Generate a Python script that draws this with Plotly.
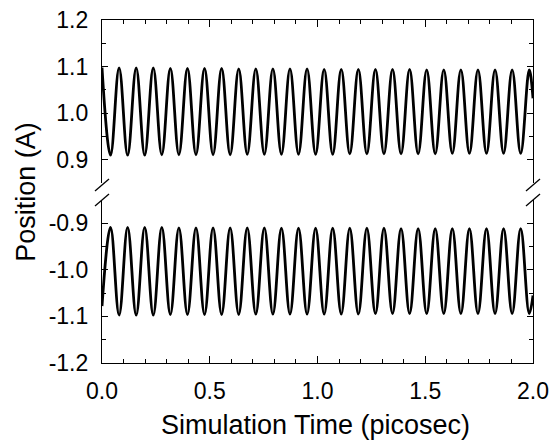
import plotly.graph_objects as go

# Times (ps) of the read extrema of the oscillations, plus the last sample
time_ps = [0.0000, 0.0396, 0.0793, 0.1189, 0.1586, 0.1982, 0.2379, 0.2775, 0.3172, 0.3568,
           0.3965, 0.4361, 0.4758, 0.5154, 0.5551, 0.5947, 0.6344, 0.6740, 0.7137, 0.7533,
           0.7930, 0.8326, 0.8723, 0.9119, 0.9516, 0.9912, 1.0309, 1.0705, 1.1102, 1.1498,
           1.1895, 1.2291, 1.2688, 1.3084, 1.3481, 1.3877, 1.4274, 1.4670, 1.5067, 1.5463,
           1.5860, 1.6256, 1.6653, 1.7049, 1.7446, 1.7842, 1.8239, 1.8635, 1.9032, 1.9428,
           1.9825, 2.0000]

# Upper atom position (A)
upper_pos = [1.098, 0.910, 1.097, 0.910, 1.097, 0.910, 1.097, 0.911, 1.096, 0.911,
             1.096, 0.911, 1.096, 0.911, 1.096, 0.911, 1.095, 0.912, 1.095, 0.912,
             1.095, 0.912, 1.095, 0.912, 1.095, 0.912, 1.094, 0.912, 1.094, 0.913,
             1.094, 0.913, 1.094, 0.913, 1.094, 0.913, 1.094, 0.913, 1.093, 0.913,
             1.093, 0.914, 1.093, 0.914, 1.093, 0.914, 1.093, 0.914, 1.093, 0.914,
             1.093, 1.032]

# Lower atom position (A)
lower_pos = [-1.078, -0.909, -1.097, -0.909, -1.097, -0.909, -1.097, -0.909, -1.096, -0.910,
             -1.096, -0.910, -1.096, -0.910, -1.096, -0.910, -1.096, -0.910, -1.095, -0.910,
             -1.095, -0.911, -1.095, -0.911, -1.095, -0.911, -1.095, -0.911, -1.095, -0.911,
             -1.095, -0.911, -1.094, -0.911, -1.094, -0.912, -1.094, -0.912, -1.094, -0.912,
             -1.094, -0.912, -1.094, -0.912, -1.094, -0.912, -1.094, -0.912, -1.094, -0.912,
             -1.094, -1.055]

x_ticks = [0.0, 0.5, 1.0, 1.5, 2.0]
upper_ticks = [0.9, 1.0, 1.1, 1.2]
lower_ticks = [-1.2, -1.1, -1.0, -0.9]
lower_tick_text = ["-1.2", "-1.1", "-1.0", "-0.9"]

FONT = "Liberation Sans, Arial, sans-serif"
line = dict(color="black", width=2.8, shape="spline", smoothing=1.1)

fig = go.Figure()
fig.add_trace(go.Scatter(x=time_ps, y=lower_pos, mode="lines", line=line,
                         xaxis="x", yaxis="y", showlegend=False))
fig.add_trace(go.Scatter(x=time_ps, y=upper_pos, mode="lines", line=line,
                         xaxis="x2", yaxis="y2", showlegend=False))

axis_common = dict(showline=True, linecolor="black", linewidth=1.2, ticks="inside",
                   tickcolor="black", tickwidth=1.2, showgrid=False, zeroline=False,
                   automargin=False,
                   tickfont=dict(family=FONT, size=23, color="black"))

fig.update_layout(
    width=551, height=443,
    margin=dict(l=102, r=18, t=20, b=80, autoexpand=False),
    paper_bgcolor="white", plot_bgcolor="white",
    xaxis=dict(**axis_common, anchor="y", range=[0, 2], tickvals=x_ticks, tickformat=".1f",
               ticklen=7, minor=dict(dtick=0.1, ticks="inside", ticklen=4, tickcolor="black"),
               ticklabelstandoff=7),
    xaxis2=dict(**axis_common, anchor="y2", side="top", matches="x", range=[0, 2],
                tickvals=x_ticks, showticklabels=False, ticklen=7,
                minor=dict(dtick=0.1, ticks="inside", ticklen=4, tickcolor="black")),
    yaxis=dict(**axis_common, domain=[0, 0.4757], range=[-1.2, -0.85], mirror="ticks",
               tickvals=lower_ticks, ticktext=lower_tick_text, ticklen=6,
               minor=dict(dtick=0.05, ticks="inside", ticklen=4, tickcolor="black"),
               ticklabelstandoff=8),
    yaxis2=dict(**axis_common, domain=[0.5243, 1], range=[0.85, 1.2], mirror="ticks",
                tickvals=upper_ticks, tickformat=".1f", ticklen=6,
                minor=dict(dtick=0.05, ticks="inside", ticklen=4, tickcolor="black"),
                ticklabelstandoff=8),
)

# axis titles
fig.add_annotation(text="Position (A)", xref="paper", yref="paper", x=-0.178, y=0.5,
                   xanchor="center", yanchor="middle", textangle=-90, showarrow=False,
                   font=dict(family=FONT, size=27, color="black"))
fig.add_annotation(text="Simulation Time (picosec)", xref="paper", yref="paper", x=0.495,
                   y=(363 - 442) / 343.0,
                   xanchor="center", yanchor="bottom", showarrow=False,
                   font=dict(family=FONT, size=27, color="black"))

# axis-break marks
W, H = 431.0, 343.0
def px2paper(px, py):
    return (px - 102) / W, (363 - py) / H

for cx in (102, 533):
    for cy in (185, 200):
        x0, y0 = px2paper(cx - 7, cy + 6)
        x1, y1 = px2paper(cx + 7, cy - 6)
        fig.add_shape(type="line", xref="paper", yref="paper", x0=x0, y0=y0, x1=x1, y1=y1,
                      line=dict(color="black", width=1.3))

fig.write_html("out.html", config={"displayModeBar": False},
               post_script="document.body.style.margin='0';document.body.style.overflow='hidden';")
